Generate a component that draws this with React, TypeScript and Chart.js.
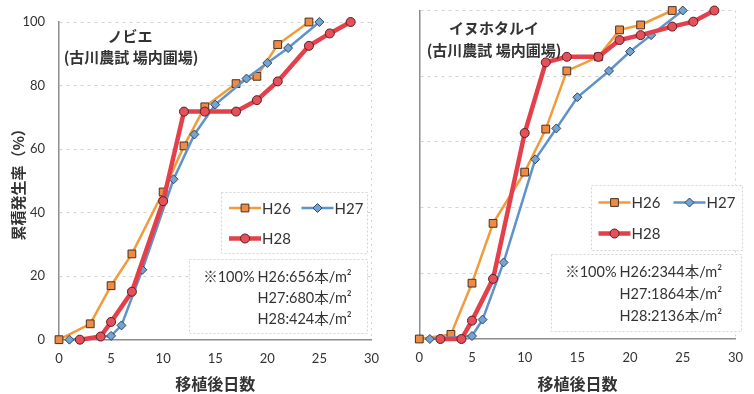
import React, { useEffect, useRef } from "react";
import { Chart, registerables } from "chart.js";

Chart.register(...registerables);

// ---------------- data ----------------
const X_TICKS = [0, 5, 10, 15, 20, 25, 30];
const Y_TICKS = [0, 20, 40, 60, 80, 100];
const SERIES_LABELS = ["H26", "H27", "H28"];

const H26_DAYS = [0, 3, 5, 7, 10, 12, 14, 17, 19, 21, 24];
const H27_DAYS = [1, 5, 6, 8, 11, 13, 15, 18, 20, 22, 25];
const H28_DAYS = [2, 4, 5, 7, 10, 12, 14, 17, 19, 21, 24, 26, 28];

const NOBIE_H26 = [0, 5, 17, 27, 46.5, 61, 73.3, 80.6, 82.9, 92.9, 100];
const NOBIE_H27 = [0, 1.2, 4.5, 22, 50.5, 64.6, 74, 82.2, 87.1, 91.8, 100];
const NOBIE_H28 = [0, 1, 5.6, 15.1, 43.6, 71.8, 71.8, 71.8, 75.4, 81.3, 92.5, 96.4, 100];

const INU_H26 = [0, 1.4, 17, 35.2, 50.8, 63.9, 81.6, 85.9, 94.1, 95.6, 100];
const INU_H27 = [0, 0.9, 5.9, 23.3, 54.7, 64.1, 73.6, 81.6, 87.5, 92.5, 100];
const INU_H28 = [0, 0, 5.6, 18.3, 62.7, 84.2, 85.9, 85.9, 91, 92.5, 95.1, 96.6, 100];

const NOBIE_TITLE = ["ノビエ", "(古川農試 場内圃場)"];
const INU_TITLE = ["イヌホタルイ", "(古川農試 場内圃場)"];
const NOTE_PREFIX = "※100%";
const NOBIE_NOTE = ["H26:656本/m²", "H27:680本/m²", "H28:424本/m²"];
const INU_NOTE = ["H26:2344本/m²", "H27:1864本/m²", "H28:2136本/m²"];
const X_TITLE = "移植後日数";
const Y_TITLE = "累積発生率（%）";

// ---------------- styles ----------------
const FONT = 'Lato, "Noto Sans CJK JP", sans-serif';
const CJK = '"Noto Sans CJK JP", sans-serif';
const TEXT = "#333333";
const GRID = "#d2d2d2";

const STYLES = [
  { line: "#F29B3B", fill: "#EE8B45", border: "#4A3020", point: "rect", radius: 5.5, width: 2.5, order: 2 },
  { line: "#5E93CC", fill: "#74A3D4", border: "#2C4560", point: "rectRot", radius: 4.5, width: 2.5, order: 1 },
  { line: "#E3404B", fill: "#E5505A", border: "#5A1E22", point: "circle", radius: 4.5, width: 4.5, order: 0 },
];

function drawMarker(ctx: CanvasRenderingContext2D, s: any, x: number, y: number) {
  const r = s.radius;
  ctx.save();
  ctx.beginPath();
  if (s.point === "rect") {
    const h = r * Math.SQRT1_2;
    ctx.rect(x - h, y - h, 2 * h, 2 * h);
  } else if (s.point === "rectRot") {
    ctx.moveTo(x - r, y);
    ctx.lineTo(x, y - r);
    ctx.lineTo(x + r, y);
    ctx.lineTo(x, y + r);
    ctx.closePath();
  } else {
    ctx.arc(x, y, r, 0, Math.PI * 2);
  }
  ctx.fillStyle = s.fill;
  ctx.fill();
  ctx.strokeStyle = s.border;
  ctx.lineWidth = 1;
  ctx.stroke();
  ctx.restore();
}

function box(ctx: CanvasRenderingContext2D, b: any) {
  ctx.save();
  ctx.fillStyle = "#ffffff";
  ctx.fillRect(b.x, b.y, b.w, b.h);
  ctx.strokeStyle = "#d4d4d4";
  ctx.setLineDash([2, 2]);
  ctx.lineWidth = 1;
  ctx.strokeRect(b.x + 0.5, b.y + 0.5, b.w, b.h);
  ctx.restore();
}

function overlayPlugin(cfg: any) {
  return {
    id: "overlay",
    afterDraw(chart: any) {
      const ctx: CanvasRenderingContext2D = chart.ctx;
      // titles
      ctx.save();
      ctx.fillStyle = TEXT;
      ctx.textAlign = "center";
      ctx.textBaseline = "middle";
      ctx.font = `bold 15px ${CJK}`;
      cfg.titles.forEach((t: any) => ctx.fillText(t.text, t.x, t.y));
      ctx.restore();

      // legend
      box(ctx, cfg.legend.box);
      cfg.legend.items.forEach((it: any, i: number) => {
        const s = STYLES[i];
        ctx.save();
        ctx.strokeStyle = s.line;
        ctx.lineWidth = s.width;
        ctx.beginPath();
        ctx.moveTo(it.x, it.y);
        ctx.lineTo(it.x + cfg.legend.len, it.y);
        ctx.stroke();
        ctx.restore();
        drawMarker(ctx, s, it.x + cfg.legend.len / 2, it.y);
        ctx.save();
        ctx.fillStyle = TEXT;
        ctx.font = `15px ${FONT}`;
        ctx.textAlign = "left";
        ctx.textBaseline = "middle";
        ctx.fillText(SERIES_LABELS[i], it.x + cfg.legend.len + 1, it.y + 1);
        ctx.restore();
      });

      // note
      const n = cfg.note;
      box(ctx, n.box);
      ctx.save();
      ctx.fillStyle = TEXT;
      ctx.font = `14.5px ${FONT}`;
      ctx.textBaseline = "middle";
      ctx.textAlign = "right";
      ctx.fillText(NOTE_PREFIX, n.textX - 3, n.ys[0]);
      ctx.textAlign = "left";
      n.lines.forEach((l: string, i: number) => ctx.fillText(l, n.textX, n.ys[i]));
      ctx.restore();
    },
  };
}

function makeConfig(p: any) {
  const series = [
    [H26_DAYS, p.h26],
    [H27_DAYS, p.h27],
    [H28_DAYS, p.h28],
  ];
  const datasets = series.map(([days, vals]: any, i) => {
    const s = STYLES[i];
    return {
      label: SERIES_LABELS[i],
      data: days.map((d: number, k: number) => ({ x: d, y: vals[k] })),
      borderColor: s.line,
      backgroundColor: s.fill,
      pointBackgroundColor: s.fill,
      pointBorderColor: s.border,
      pointBorderWidth: 1,
      pointStyle: s.point,
      pointRadius: s.radius,
      pointHoverRadius: s.radius,
      borderWidth: s.width,
      tension: 0,
      order: s.order,
      clip: false,
    };
  });
  return {
    type: "line",
    data: { datasets },
    options: {
      animation: false,
      responsive: false,
      devicePixelRatio: 1,
      layout: { padding: { top: p.padTop, right: p.padRight, bottom: 0, left: 0 } },
      plugins: { legend: { display: false }, tooltip: { enabled: false }, title: { display: false } },
      scales: {
        x: {
          type: "linear",
          min: 0,
          max: 30,
          afterBuildTicks: (s: any) => {
            s.ticks = X_TICKS.map((v) => ({ value: v }));
          },
          afterFit: (s: any) => {
            s.height = p.xAxisHeight;
          },
          ticks: { color: TEXT, font: { family: FONT, size: 13 }, padding: 11, maxRotation: 0 },
          grid: {
            drawTicks: false,
            color: (c: any) => (c.tick && c.tick.value === 30 ? GRID : "rgba(0,0,0,0)"),
          },
          border: { display: true, color: "#8c8c8c", width: 1.5, dash: [2, 4] },
          title: {
            display: true,
            text: X_TITLE,
            color: TEXT,
            font: { family: CJK, size: 16, weight: "bold" },
            padding: { top: 0, bottom: 0 },
          },
        },
        y: {
          min: 0,
          max: 100,
          afterBuildTicks: (s: any) => {
            s.ticks = Y_TICKS.map((v) => ({ value: v }));
          },
          afterFit: (s: any) => {
            s.width = p.yAxisWidth;
          },
          ticks: { display: p.showY, color: TEXT, font: { family: FONT, size: 13 }, padding: 14 },
          grid: {
            color: (c: any) => (c.tick && c.tick.value === 0 ? "rgba(0,0,0,0)" : GRID),
            lineWidth: 1,
            drawTicks: false,
          },
          border: { display: true, color: "#8c8c8c", width: 1.5, dash: [3, 4] },
          title: {
            display: p.showY,
            text: Y_TITLE,
            color: TEXT,
            font: { family: CJK, size: 15, weight: "bold" },
            padding: { top: 9, bottom: 0 },
          },
        },
      },
    },
    plugins: [overlayPlugin(p.overlay)],
  };
}

function Panel({ p, style }: any) {
  const ref = useRef<HTMLCanvasElement | null>(null);
  useEffect(() => {
    if (!ref.current) return;
    const chart = new Chart(ref.current, makeConfig(p) as any);
    return () => chart.destroy();
  }, []);
  return <canvas ref={ref} width={p.width} height={394} style={{ position: "absolute", top: 0, ...style }} />;
}

const LEFT = {
  width: 390,
  padTop: 22,
  padRight: 13,
  yAxisWidth: 59,
  xAxisHeight: 54.3,
  showY: true,
  h26: NOBIE_H26,
  h27: NOBIE_H27,
  h28: NOBIE_H28,
  overlay: {
    titles: [
      { text: NOBIE_TITLE[0], x: 130, y: 36 },
      { text: NOBIE_TITLE[1], x: 131, y: 57 },
    ],
    legend: {
      box: { x: 221, y: 192, w: 146, h: 61 },
      len: 32,
      items: [
        { x: 229, y: 208 },
        { x: 301.5, y: 208 },
        { x: 229, y: 238.5 },
      ],
    },
    note: {
      box: { x: 189, y: 259, w: 178, h: 74 },
      textX: 257.5,
      ys: [277.5, 298.5, 319.5],
      lines: NOBIE_NOTE,
    },
  },
};

const RIGHT = {
  width: 374,
  padTop: 10.5,
  padRight: 8.3,
  yAxisWidth: 39.3,
  xAxisHeight: 55,
  showY: false,
  h26: INU_H26,
  h27: INU_H27,
  h28: INU_H28,
  overlay: {
    titles: [
      { text: INU_TITLE[0], x: 114, y: 28.5 },
      { text: INU_TITLE[1], x: 114, y: 50 },
    ],
    legend: {
      box: { x: 211, y: 185, w: 151, h: 65 },
      len: 32,
      items: [
        { x: 218.5, y: 202.5 },
        { x: 293.5, y: 202.5 },
        { x: 218.5, y: 233.5 },
      ],
    },
    note: {
      box: { x: 171, y: 254, w: 190, h: 77 },
      textX: 239.5,
      ys: [272, 294.5, 316],
      lines: INU_NOTE,
    },
  },
};

export default function App() {
  return (
    <div style={{ position: "fixed", left: 0, top: 0, width: 754, height: 394, background: "#fff", overflow: "hidden" }}>
      <Panel p={LEFT} style={{ left: 0 }} />
      <Panel p={RIGHT} style={{ left: 380, background: "#fff" }} />
    </div>
  );
}
